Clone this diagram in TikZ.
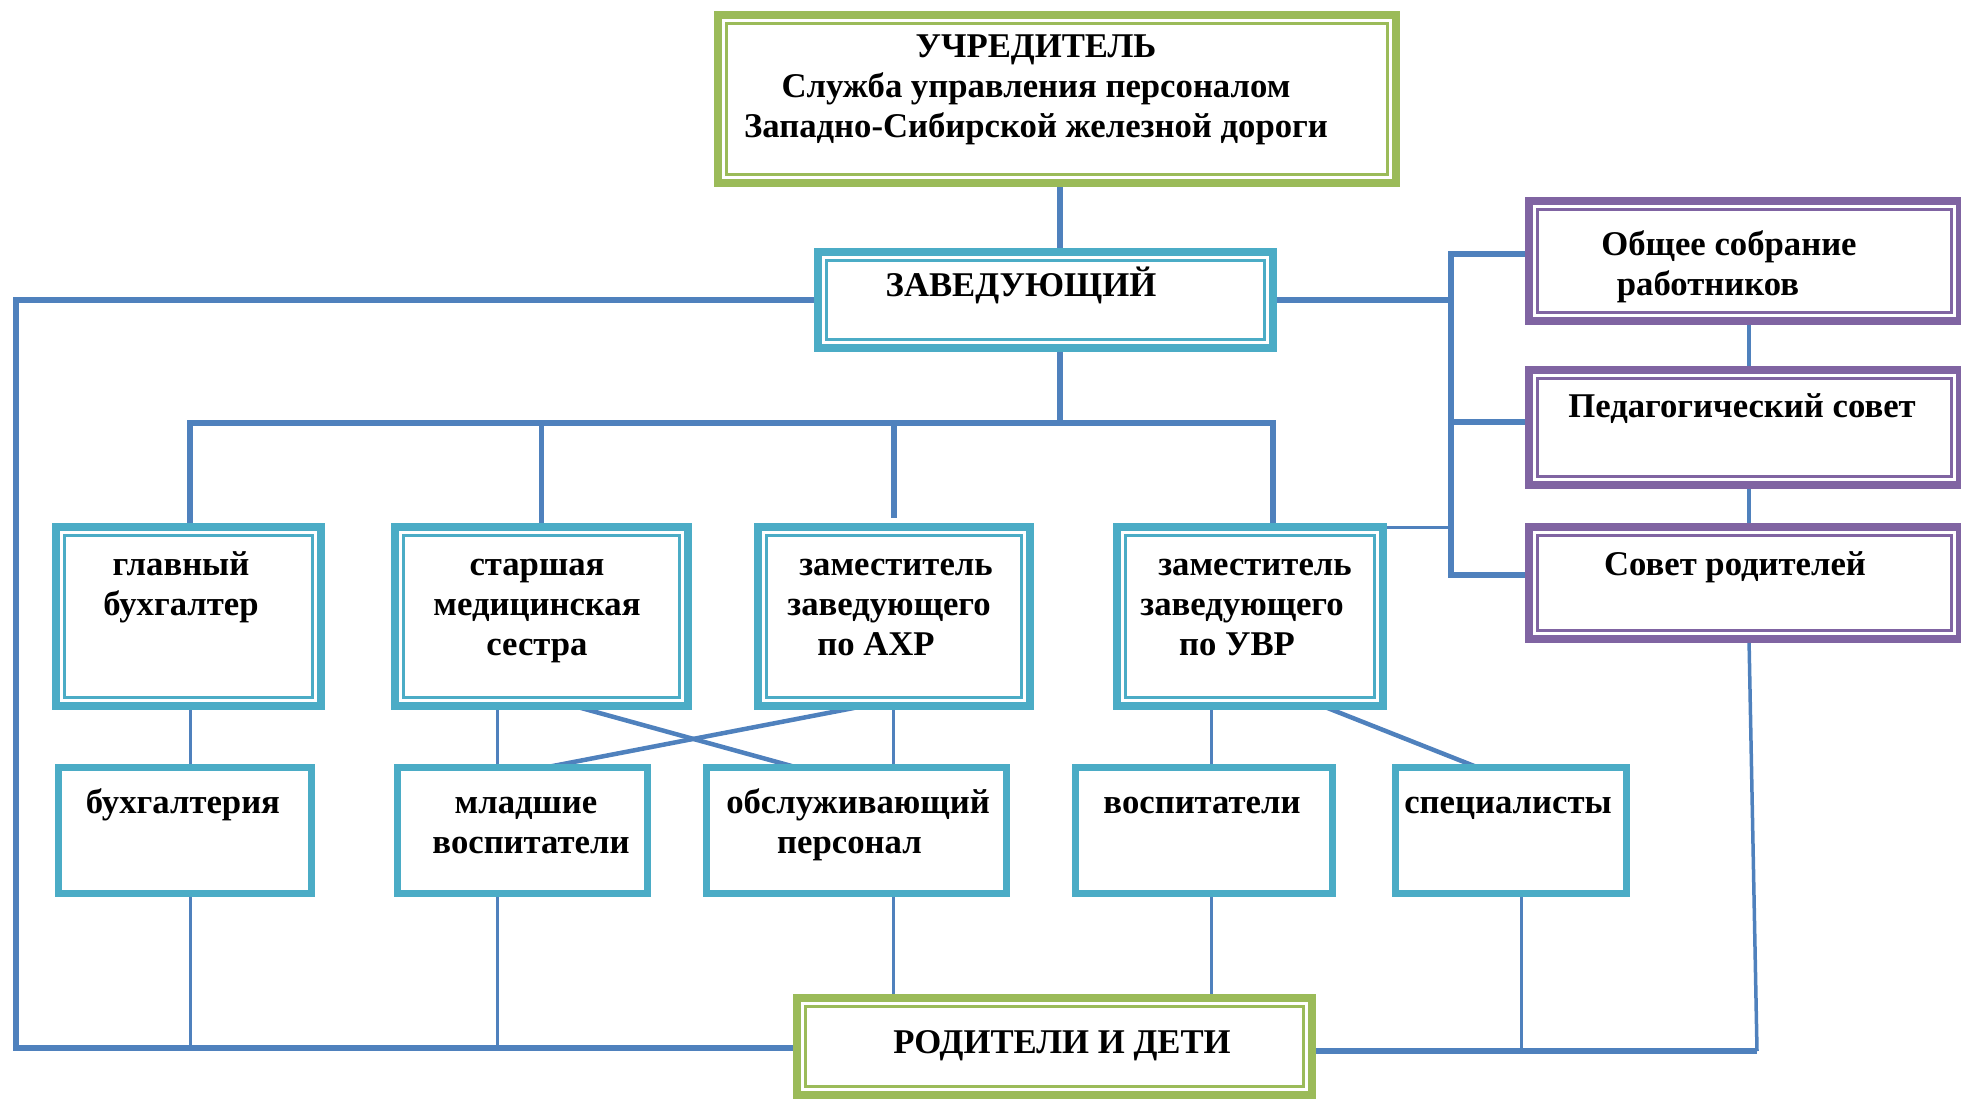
\documentclass[tikz,border=0pt]{standalone}
\usepackage{fontspec}
\setmainfont{Liberation Serif}
\usetikzlibrary{backgrounds,calc}
\definecolor{lineblue}{HTML}{4F81BD}
\definecolor{boxteal}{HTML}{4BACC6}
\definecolor{boxgreen}{HTML}{9BBB59}
\definecolor{boxpurple}{HTML}{8064A2}
\tikzset{
  dbox/.style={draw=#1, fill=white, line width=8pt, inner sep=0pt, outer sep=0pt,
    path picture={\draw[#1, line width=2.5pt]
      ([shift={(8.5pt,-8.5pt)}]path picture bounding box.north west) rectangle
      ([shift={(-8.5pt,8.5pt)}]path picture bounding box.south east);}},
  sbox/.style={draw=boxteal, fill=white, line width=7pt, inner sep=0pt, outer sep=0pt},
  lbl/.style={font=\fontsize{34.7}{40}\selectfont\bfseries, inner sep=0pt, anchor=base, align=center},
  trunk/.style={draw=lineblue, line width=5.5pt},
  midline/.style={draw=lineblue, line width=3.5pt},
  twig/.style={draw=lineblue, line width=3pt},
  diag/.style={draw=lineblue, line width=4.5pt},
}
\begin{document}
\begin{tikzpicture}[x=1pt,y=-1pt]
\useasboundingbox (0,0) rectangle (1961,1100);
% boxes
\node[dbox=boxgreen, minimum width=678pt, minimum height=168pt] (uch) at (1057,99) {};
\node[dbox=boxteal, minimum width=455pt, minimum height=96pt] (zav) at (1045.5,300) {};
\node[dbox=boxteal, minimum width=265pt, minimum height=179pt] (gb) at (188.5,616.5) {};
\node[dbox=boxteal, minimum width=293pt, minimum height=179pt] (sms) at (541.5,616.5) {};
\node[dbox=boxteal, minimum width=272pt, minimum height=179pt] (ahr) at (894,616.5) {};
\node[dbox=boxteal, minimum width=266pt, minimum height=179pt] (uvr) at (1250,616.5) {};
\node[dbox=boxpurple, minimum width=431pt, minimum height=120pt] (obs) at (1744.5,261) {};
\node[dbox=boxpurple, minimum width=431pt, minimum height=115pt] (ped) at (1744.5,427.5) {};
\node[dbox=boxpurple, minimum width=431pt, minimum height=112pt] (sr) at (1744.5,583) {};
\node[dbox=boxgreen, minimum width=515pt, minimum height=97pt] (rod) at (1054.5,1046.5) {};
\node[sbox, minimum width=253pt, minimum height=126pt] (buh) at (185,830.5) {};
\node[sbox, minimum width=250pt, minimum height=126pt] (mv) at (522.5,830.5) {};
\node[sbox, minimum width=300pt, minimum height=126pt] (obsl) at (856.5,830.5) {};
\node[sbox, minimum width=257pt, minimum height=126pt] (vos) at (1204,830.5) {};
\node[sbox, minimum width=231pt, minimum height=126pt] (spec) at (1511,830.5) {};
% helper coordinates
\coordinate (jz) at (1060,423);
\coordinate (bR) at (1273,423);
\coordinate (lb) at (16,0);
\coordinate (rtop) at (1451,254);
\coordinate (rmid) at (1451,422);
\coordinate (rbot) at (1451,575);
\coordinate (rbr) at (1757,1051);
\coordinate (k1) at (190,0);
\coordinate (k2) at (497,0);
\coordinate (k3) at (893,0);
\coordinate (k4) at (1211,0);
\coordinate (k5) at (1521,0);
\coordinate (k6) at (1749,0);
\coordinate (yb) at (0,1048);
\coordinate (yb2) at (0,1051);
% connectors
\begin{scope}[on background layer]
\draw[trunk] (uch.south -| jz) -- (zav.north -| jz);
\draw[trunk] (zav.south -| jz) -- (jz);
\draw[trunk] (gb.north -| k1) |- (bR) -- (bR |- uvr.north);
\draw[trunk] (sms.north) -- (sms.north |- jz);
\draw[trunk] (jz -| ahr.north) -- ([yshift=9pt]ahr.north);
\draw[trunk] (zav.west) -| (lb |- yb) -- (rod.west |- yb);
\draw[trunk] (zav.east) -- (zav.east -| rtop);
\draw[trunk] (obs.west |- rtop) -- (rtop) -- (rbot) -- (sr.west |- rbot);
\draw[trunk] (rmid) -- (ped.west |- rmid);
\draw[twig] (uvr.north east) -- (uvr.north east -| rtop);
\draw[midline] (obs.south -| k6) -- (ped.north -| k6);
\draw[midline] (ped.south -| k6) -- (sr.north -| k6);
\draw[midline] (sr.south -| k6) -- (rbr);
\draw[trunk] (rbr) -- (rod.east |- rbr);
\draw[twig] (gb.south -| k1) -- (buh.north -| k1);
\draw[twig] (buh.south -| k1) -- (yb -| k1);
\draw[twig] (sms.south -| k2) -- (mv.north -| k2);
\draw[twig] (mv.south -| k2) -- (yb -| k2);
\draw[twig] (ahr.south -| k3) -- (obsl.north -| k3);
\draw[twig] (obsl.south -| k3) -- (rod.north -| k3);
\draw[twig] (uvr.south -| k4) -- (vos.north -| k4);
\draw[twig] (vos.south -| k4) -- (rod.north -| k4);
\draw[twig] (spec.south -| k5) -- (yb2 -| k5);
\draw[diag] ([xshift=32.5pt]sms.south) -- ([xshift=-59.5pt]obsl.north);
\draw[diag] ([xshift=-30pt]ahr.south) -- ([xshift=22.5pt]mv.north);
\draw[diag] ([xshift=72.5pt]uvr.south) -- ([xshift=-33pt]spec.north);
\end{scope}
% texts (anchor = baseline of the last line)
\node[lbl] (t-uch) at (1036,137) {УЧРЕДИТЕЛЬ\\Служба управления персоналом\\Западно-Сибирской железной дороги};
\node[lbl] (t-zav) at (1021,296) {ЗАВЕДУЮЩИЙ};
\node[lbl] (t-gb) at (181,615) {главный\\бухгалтер};
\node[lbl] (t-sms) at (537,655) {старшая\\медицинская\\сестра};
\node[lbl] (t-ahr) at (889,655) {\hspace*{14pt}заместитель\\заведующего\\по АХР\hspace*{26pt}};
\node[lbl] (t-uvr) at (1242,655) {\hspace*{26pt}заместитель\\заведующего\\по УВР\hspace*{10pt}};
\node[lbl] (t-buh) at (183,813) {бухгалтерия};
\node[lbl] (t-mv) at (531,853) {младшие\hspace*{10pt}\\воспитатели};
\node[lbl] (t-obsl) at (858,853) {обслуживающий\\персонал\hspace*{17pt}};
\node[lbl] (t-vos) at (1202,813) {воспитатели};
\node[lbl] (t-spec) at (1508,813) {специалисты};
\node[lbl] (t-rod) at (1062,1053) {РОДИТЕЛИ И ДЕТИ};
\node[lbl] (t-obs) at (1729,295) {Общее собрание\\работников\hspace*{42pt}};
\node[lbl] (t-ped) at (1742,417) {Педагогический совет};
\node[lbl] (t-sr) at (1735,575) {Совет родителей};
\end{tikzpicture}
\end{document}
